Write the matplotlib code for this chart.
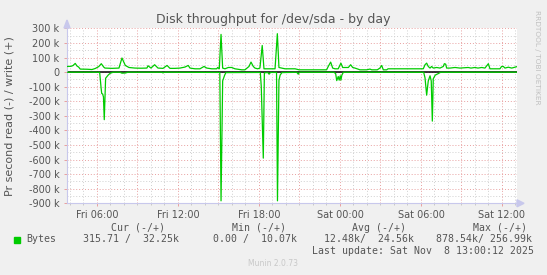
import matplotlib
matplotlib.use("Agg")
from matplotlib import pyplot as plt
from matplotlib.patches import Polygon, Rectangle
import numpy as np

# hours since Fri 00:00 and throughput in k bytes / second
write_t = [3.78, 4.07, 4.22, 4.39, 4.52, 4.64, 4.76, 5.26, 5.63, 5.87, 6.13, 6.32,
           6.50, 6.59, 7.11, 7.63, 7.85, 8.10, 8.37, 8.81, 9.26, 9.70, 9.78, 10.00,
           10.27, 10.52, 10.89, 11.19, 11.41, 11.78, 12.15, 12.52, 12.76, 12.89,
           13.26, 13.63, 13.93, 14.13, 14.50, 14.87, 14.94, 15.06, 15.19, 15.31,
           15.48, 15.73, 15.98, 16.22, 16.72, 16.96, 17.26, 17.41, 17.58, 17.70,
           17.90, 18.07, 18.24, 18.37, 18.69, 19.19, 19.36, 19.48, 19.68, 19.93,
           20.67, 20.98, 21.78, 22.52, 23.01, 23.13, 23.31, 23.46, 23.63, 23.87,
           24.07, 24.20, 24.37, 24.62, 24.79, 24.94, 25.11, 25.36, 25.48, 25.98,
           26.22, 26.35, 26.76, 26.96, 27.09, 27.21, 27.46, 27.56, 28.07, 28.81,
           30.17, 30.30, 30.42, 30.54, 30.67, 30.79, 30.91, 31.16, 31.41, 31.65,
           31.73, 31.83, 31.90, 32.15, 32.52, 32.89, 33.50, 33.70, 34.00, 34.22,
           34.50, 34.74, 34.99, 35.11, 35.36, 35.85, 35.97, 36.10, 36.22, 36.47,
           36.72, 36.96, 37.07]
write_k = [39, 40, 45, 60, 42, 35, 21, 20, 18, 25, 38, 58,
           35, 28, 26, 28, 97, 46, 32, 28, 27, 28, 44, 28,
           51, 28, 26, 46, 26, 26, 28, 35, 46, 28,
           23, 23, 39, 28, 23, 23, 32, 23, 259, 28,
           23, 32, 32, 23, 16, 16, 39, 69, 39, 28,
           23, 28, 183, 23, 23, 23, 264, 32, 28, 23,
           23, 16, 16, 16, 16, 39, 69, 28, 23, 23,
           62, 32, 32, 32, 51, 32, 28, 20, 16, 16,
           21, 16, 16, 28, 46, 16, 16, 23, 23, 23,
           23, 51, 62, 39, 28, 39, 28, 32, 28, 39,
           58, 55, 28, 28, 32, 28, 32, 28, 32, 28,
           32, 28, 58, 23, 23, 23, 39, 39, 28, 34,
           28, 34, 37]

read_t = [3.78, 5.00, 6.20, 6.30, 6.35, 6.42, 6.48, 6.54, 6.64, 6.84, 6.99, 7.21,
          7.70, 7.85, 8.10, 8.30, 10.80, 10.89, 11.00, 15.10, 15.19, 15.31, 15.46,
          15.55, 18.10, 18.17, 18.32, 18.40, 18.65, 18.75, 18.85, 19.30, 19.37,
          19.48, 19.57, 19.70, 20.80, 20.91, 21.00, 23.55, 23.68, 23.76, 23.87,
          23.94, 24.02, 24.07, 24.14, 24.25, 30.20, 30.30, 30.42, 30.54, 30.67,
          30.76, 30.84, 30.91, 31.06, 31.28, 31.45, 37.07]
read_k = [0.5, 0.5, 1, 104, 146, 150, 170, 326, 42, 19, 7, 0.5,
          0.5, 7, 6, 0.5, 0.5, 5, 0.5, 2, 883, 60, 20,
          3, 2, 100, 590, 5, 2, 14, 2, 2, 883,
          55, 20, 3, 1, 14, 1, 1, 10, 58, 30,
          55, 25, 55, 20, 1, 1, 40, 158, 60, 25,
          60, 336, 45, 20, 10, 1, 0.3]

tick_hours = [6, 12, 18, 24, 30, 36]
tick_labels = ["Fri 06:00", "Fri 12:00", "Fri 18:00", "Sat 00:00", "Sat 06:00", "Sat 12:00"]
y_ticks = list(range(-900, 301, 100))
y_labels = ["0" if v == 0 else "%d k" % v for v in y_ticks]

legend_heads = ["Cur (-/+)", "Min (-/+)", "Avg (-/+)", "Max (-/+)"]
legend_vals = ["315.71 /  32.25k", "0.00 /  10.07k", "12.48k/  24.56k", "878.54k/ 256.99k"]
last_update = "Last update: Sat Nov  8 13:00:12 2025"

W, H = 547, 275
green = "#00cc00"
txt = "#555555"
axis_col = "#c8c8ec"

fig = plt.figure(figsize=(W / 100, H / 100), dpi=100, facecolor="#f0f0f0")
x0, x1, ytop, ybot = 67, 516.7, 28, 203.3
ax = fig.add_axes([x0 / W, 1 - ybot / H, (x1 - x0) / W, (ybot - ytop) / H])
ax.set_facecolor("white")
ax.set_xlim(3.78, 37.09)
ax.set_ylim(-900, 303)

# grid: gray every hour / 50k, red every 3 hours / 100k
for h in range(4, 38):
    if h % 3:
        ax.axvline(h, color="#d0d0d0", lw=0.7, ls=(0, (1, 2)), zorder=0)
for v in range(-850, 300, 100):
    ax.axhline(v, color="#d0d0d0", lw=0.7, ls=(0, (1, 2)), zorder=0)
for h in range(6, 38, 3):
    ax.axvline(h, color="#e8a0a0", lw=0.7, ls=(0, (1, 2)), zorder=0)
for v in range(-900, 301, 100):
    ax.axhline(v, color="#e8a0a0", lw=0.7, ls=(0, (1, 2)), zorder=0)

ax.axhline(0, color="black", lw=1.1, zorder=2)
ax.plot(write_t, write_k, color=green, lw=0.9, zorder=3)
ax.plot(read_t, -np.array(read_k), color=green, lw=0.9, zorder=3)

for s in ["top", "right"]:
    ax.spines[s].set_visible(False)
for s in ["left", "bottom"]:
    ax.spines[s].set_color(axis_col)
    ax.spines[s].set_linewidth(0.8)

ax.set_xticks(tick_hours)
ax.set_xticklabels(tick_labels)
ax.set_xticks(range(4, 38), minor=True)
ax.set_yticks(y_ticks)
ax.set_yticklabels(y_labels)
ax.tick_params(axis="both", which="major", length=2, width=0.7, color="#e8a0a0",
               labelsize=7, labelcolor=txt)
ax.tick_params(axis="x", which="major", pad=2.5)
ax.tick_params(axis="y", which="major", pad=3.5)
ax.tick_params(axis="x", which="minor", length=1.5, width=0.7, color="#c8c8c8")

# axis arrows
def px(x, y):
    return (x / W, 1 - y / H)

fig.patches.append(Polygon([px(64, 28), px(70, 28), px(67, 20)], closed=True,
                           transform=fig.transFigure, color=axis_col))
fig.patches.append(Polygon([px(517, 199.8), px(517, 206.8), px(524, 203.3)], closed=True,
                           transform=fig.transFigure, color=axis_col))

fig.text(273 / W, 1 - 19.5 / H, "Disk throughput for /dev/sda - by day", ha="center",
         va="center", fontsize=9, color=txt)
fig.text(10 / W, 1 - 116 / H, "Pr second read (-) / write (+)", rotation=90,
         ha="center", va="center", fontsize=8, color=txt)
fig.text(537 / W, 1 - 57 / H, "RRDTOOL / TOBI OETIKER", rotation=270, ha="center",
         va="center", fontsize=5.3, color="#c0c0c0")
fig.text(273 / W, 1 - 264 / H, "Munin 2.0.73", ha="center", va="center",
         fontsize=5.5, color="#c8c8c8")

mono = dict(family="DejaVu Sans Mono", fontsize=7.1, color=txt, va="center")
for x, s in zip([111, 231.7, 352.3, 472.7], legend_heads):
    fig.text(x / W, 1 - 227.8 / H, s, **mono)
fig.patches.append(Rectangle(px(14, 242.7), 6 / W, 6 / H, transform=fig.transFigure,
                             color=green))
fig.text(26.3 / W, 1 - 239.3 / H, "Bytes", **mono)
for x, s in zip([83, 213.3, 324.3, 435.7], legend_vals):
    fig.text(x / W, 1 - 239.3 / H, s, **mono)
fig.text(311.7 / W, 1 - 251.3 / H, last_update, **mono)

fig.savefig("out.png", dpi=100, facecolor=fig.get_facecolor())
